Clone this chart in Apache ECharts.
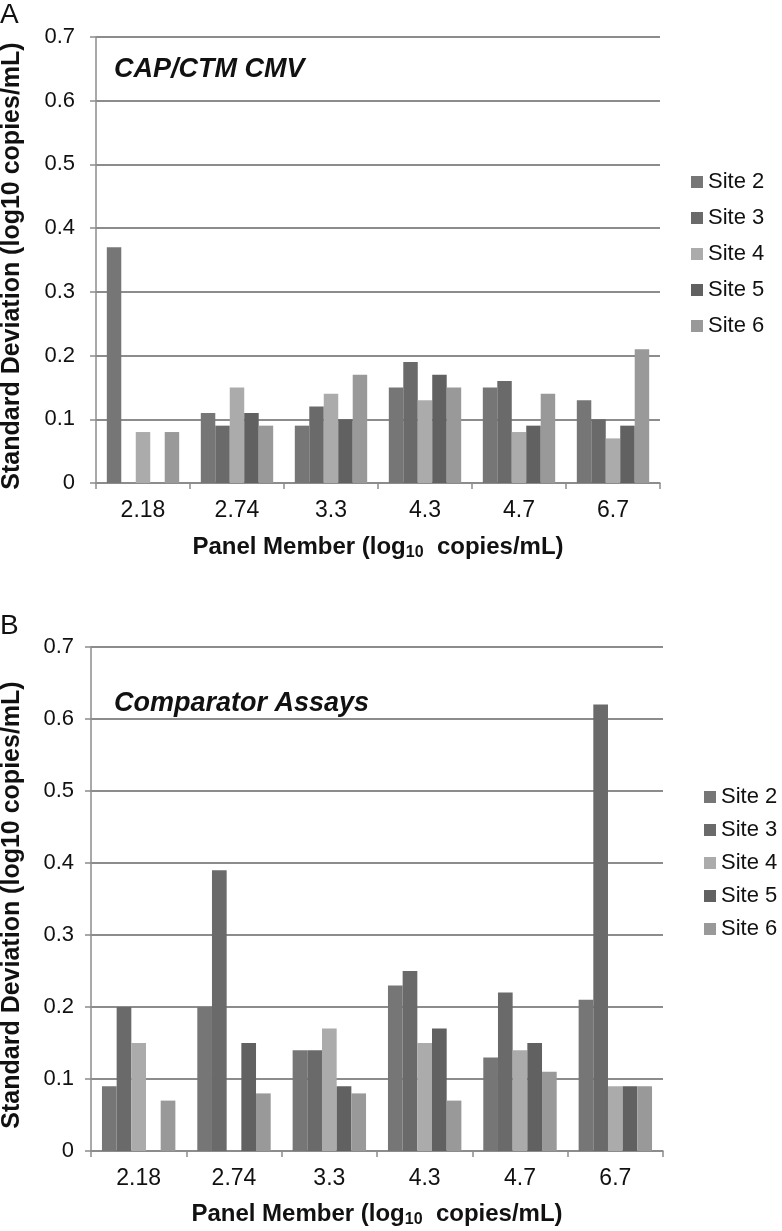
<!DOCTYPE html>
<html>
<head>
<meta charset="utf-8">
<script src="https://cdn.jsdelivr.net/npm/echarts@6/dist/echarts.min.js"></script>
<style>
html,body{margin:0;padding:0;background:#fff;}
#c{width:782px;height:1231px;}
</style>
</head>
<body>
<div id="c"></div>
<script>
const categories = ['2.18', '2.74', '3.3', '4.3', '4.7', '6.7'];
const sites = ['Site 2', 'Site 3', 'Site 4', 'Site 5', 'Site 6'];
const yTicks = [0, 0.1, 0.2, 0.3, 0.4, 0.5, 0.6, 0.7];

// Panel A: CAP/CTM CMV
const capSite2 = [0.37, 0.11, 0.09, 0.15, 0.15, 0.13];
const capSite3 = [null, 0.09, 0.12, 0.19, 0.16, 0.10];
const capSite4 = [0.08, 0.15, 0.14, 0.13, 0.08, 0.07];
const capSite5 = [null, 0.11, 0.10, 0.17, 0.09, 0.09];
const capSite6 = [0.08, 0.09, 0.17, 0.15, 0.14, 0.21];

// Panel B: Comparator Assays
const compSite2 = [0.09, 0.20, 0.14, 0.23, 0.13, 0.21];
const compSite3 = [0.20, 0.39, 0.14, 0.25, 0.22, 0.62];
const compSite4 = [0.15, null, 0.17, 0.15, 0.14, 0.09];
const compSite5 = [null, 0.15, 0.09, 0.17, 0.15, 0.09];
const compSite6 = [0.07, 0.08, 0.08, 0.07, 0.11, 0.09];

const colors = ['#767676', '#6a6a6a', '#ababab', '#616161', '#999999'];
const capData = [capSite2, capSite3, capSite4, capSite5, capSite6];
const compData = [compSite2, compSite3, compSite4, compSite5, compSite6];

const FONT = '"Liberation Sans", Arial, sans-serif';
const GRID_COLOR = '#8c8c8c';

function xAxis(gridIndex) {
  return {
    type: 'category', gridIndex: gridIndex, data: categories,
    axisLine: { lineStyle: { color: GRID_COLOR, width: 1.5 } },
    axisTick: { show: true, length: 6, lineStyle: { color: GRID_COLOR, width: 1.5 } },
    axisLabel: { fontSize: 23, color: '#111', fontFamily: FONT, margin: 16 }
  };
}
function yAxis(gridIndex, margin) {
  return {
    type: 'value', gridIndex: gridIndex, min: yTicks[0], max: yTicks[yTicks.length - 1], interval: 0.1,
    axisLine: { show: true, lineStyle: { color: GRID_COLOR, width: 1.5 } },
    axisTick: { show: true, length: 6, lineStyle: { color: GRID_COLOR, width: 1.5 } },
    splitLine: { show: true, lineStyle: { color: GRID_COLOR, width: 1.8 } },
    axisLabel: { fontSize: 22, color: '#111', fontFamily: FONT, margin: margin,
      formatter: function (v) { return String(Math.round(v * 10) / 10); } }
  };
}

const series = [];
sites.forEach(function (name, i) {
  series.push({
    name: name, type: 'bar', xAxisIndex: 0, yAxisIndex: 0, data: capData[i],
    itemStyle: { color: colors[i] }, barGap: '0%', barCategoryGap: '23%'
  });
});
sites.forEach(function (name, i) {
  series.push({
    name: name, type: 'bar', xAxisIndex: 1, yAxisIndex: 1, data: compData[i],
    itemStyle: { color: colors[i] }, barGap: '0%', barCategoryGap: '23%'
  });
});

function legend(left, top, gap) {
  return {
    data: sites, orient: 'vertical', left: left, top: top, itemGap: gap, padding: 0,
    itemWidth: 12, itemHeight: 12, icon: 'rect', selectedMode: false,
    textStyle: { fontSize: 22, color: '#111', fontFamily: FONT }
  };
}

const subRich = {
  a: { fontSize: 24, fontWeight: 'bold', fontFamily: FONT, fill: '#111' },
  s: { fontSize: 16, fontWeight: 'bold', fontFamily: FONT, fill: '#111', padding: [12, 0, 0, 0] }
};

function textEl(x, y, txt, opts) {
  return Object.assign({
    type: 'text', x: x, y: y,
    style: Object.assign({ text: txt, fontFamily: FONT, fill: '#111' }, opts.style || {})
  }, opts.extra || {});
}

const chart = echarts.init(document.getElementById('c'), null, { renderer: 'canvas' });
chart.setOption({
  animation: false,
  backgroundColor: '#fff',
  color: colors,
  grid: [
    { left: 96, top: 37, width: 564, height: 446 },
    { left: 91, top: 647, width: 572, height: 504 }
  ],
  xAxis: [xAxis(0), xAxis(1)],
  yAxis: [yAxis(0, 21), yAxis(1, 17)],
  legend: [legend(691, 171, 14), legend(704, 786, 11)],
  series: series,
  graphic: [
    textEl(0, 1, 'A', { style: { fontSize: 28 } }),
    textEl(0, 612, 'B', { style: { fontSize: 28 } }),
    textEl(114, 56, 'CAP/CTM CMV', { style: { fontSize: 27, fontWeight: 'bold', fontStyle: 'italic' } }),
    textEl(114, 690, 'Comparator Assays', { style: { fontSize: 27, fontWeight: 'bold', fontStyle: 'italic' } }),
    textEl(12, 266, 'Standard Deviation (log10 copies/mL)', {
      style: { fontSize: 25, fontWeight: 'bold', align: 'center', verticalAlign: 'middle' },
      extra: { rotation: Math.PI / 2 } }),
    textEl(12, 905, 'Standard Deviation (log10 copies/mL)', {
      style: { fontSize: 25, fontWeight: 'bold', align: 'center', verticalAlign: 'middle' },
      extra: { rotation: Math.PI / 2 } }),
    textEl(378, 547, '{a|Panel Member (log}{s|10}{a|  copies/mL)}', {
      style: { align: 'center', verticalAlign: 'middle', rich: subRich } }),
    textEl(377, 1214, '{a|Panel Member (log}{s|10}{a|  copies/mL)}', {
      style: { align: 'center', verticalAlign: 'middle', rich: subRich } })
  ]
});
</script>
</body>
</html>
